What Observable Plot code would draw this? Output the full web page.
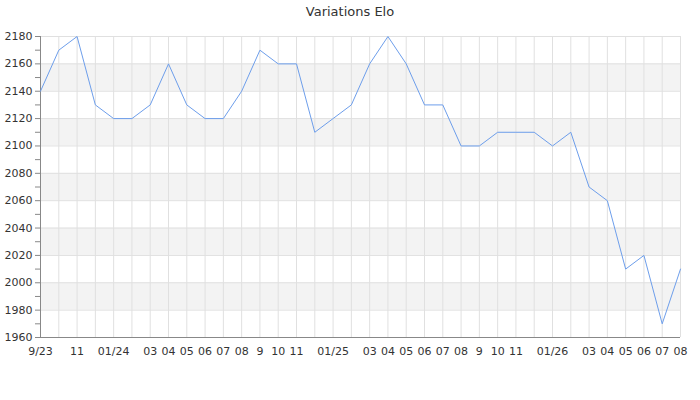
<!DOCTYPE html>
<html>
<head>
<meta charset="utf-8">
<script src="https://cdn.jsdelivr.net/npm/d3@7"></script>
<script src="https://cdn.jsdelivr.net/npm/@observablehq/plot@0.6"></script>
<style>
  body { margin: 0; background: #fff; font-family: "DejaVu Sans", sans-serif; }
  #title { height: 24px; line-height: 24px; text-align: center; font-size: 13px; color: #333; }
</style>
</head>
<body>
<div id="title">Variations Elo</div>
<div id="chart"></div>
<script>
// mois de sept. 2023 à août 2026
const mois = ["9/23","","11","","01/24","","03","04","05","06","07","08","9","10","11","",
  "01/25","","03","04","05","06","07","08","9","10","11","",
  "01/26","","03","04","05","06","07","08"];
const elo = [2140,2170,2180,2130,2120,2120,2130,2160,2130,2120,2120,2140,2170,2160,2160,2110,
  2120,2130,2160,2180,2160,2130,2130,2100,2100,2110,2110,2110,
  2100,2110,2070,2060,2010,2020,1970,2010];
const bandes = [1980, 2020, 2060, 2100, 2140]; // bandes grises de 20 points
const idx = d3.range(mois.length);

const chart = Plot.plot({
  width: 700,
  height: 376,
  marginTop: 12,
  marginBottom: 63,
  marginLeft: 40,
  marginRight: 20,
  style: { fontFamily: "DejaVu Sans, sans-serif", fontSize: "11px", color: "#333" },
  x: { type: "linear", domain: [0, mois.length - 1], axis: null },
  y: { domain: [1960, 2180], axis: null },
  marks: [
    Plot.rect(bandes, { y1: d => d, y2: d => d + 20, fill: "#f3f3f3" }),
    Plot.gridX(idx, { stroke: "#e0e0e0", strokeOpacity: 1 }),
    Plot.gridY(d3.range(1960, 2181, 20), { stroke: "#e0e0e0", strokeOpacity: 1 }),
    Plot.axisY(d3.range(1960, 2181, 10), {
      tickSize: 5, tickPadding: 3, stroke: "#888", fill: "#333",
      tickFormat: d => d % 20 === 0 ? String(d) : ""
    }),
    Plot.axisX(idx, {
      tickSize: 0, tickPadding: 10, fill: "#333",
      tickFormat: i => mois[i]
    }),
    Plot.ruleX([0], { stroke: "#888" }),
    Plot.ruleY([1960], { stroke: "#888" }),
    Plot.line(elo, { x: (d, i) => i, y: d => d, stroke: "#6d9eeb", strokeWidth: 1 })
  ]
});

d3.select('#chart').append(() => chart);
</script>
</body>
</html>
